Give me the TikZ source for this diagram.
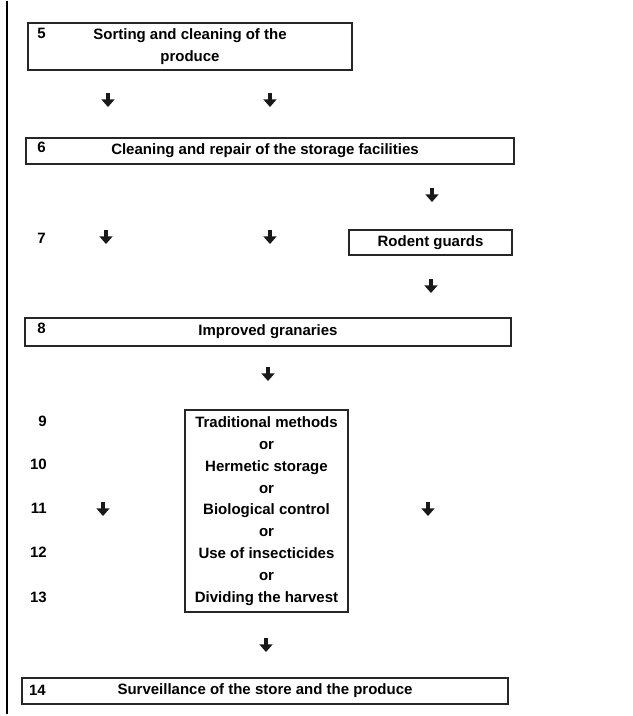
\documentclass[tikz,border=0pt]{standalone}
\usepackage{fontspec}
\setmainfont{Liberation Sans}
\usetikzlibrary{arrows.meta}
\tikzset{
  box/.style={draw=black!85, line width=0.9pt, inner sep=0pt, align=center,
              font=\fontsize{12.8}{18.6}\selectfont\bfseries},
  num/.style={anchor=east, inner sep=0pt, font=\fontsize{12.8}{14}\selectfont\bfseries},
  arr/.style={line width=2.8pt, black!90, -{Triangle[width=11pt,length=6.5pt]}}
}
\begin{document}
\begin{tikzpicture}[x=0.03cm,y=-0.03cm]
  \useasboundingbox[fill=white] (0,0) rectangle (632,716);
  % margen
  \draw[line width=1.2pt] (7,1) -- (7,714);

  % Cajas
  \node[box, minimum width=9.72cm, minimum height=1.41cm] (b5) at (190,46.5)
    {Sorting and cleaning of the\\produce};
  \node[box, minimum width=14.64cm, minimum height=0.78cm] (b6) at (270,151)
    {\hspace*{-0.3cm}Cleaning and repair of the storage facilities};
  \node[box, minimum width=4.89cm, minimum height=0.75cm] (b7) at (430.5,242.5)
    {Rodent guards};
  \node[box, minimum width=14.58cm, minimum height=0.84cm] (b8) at (268,332)
    {Improved granaries};
  \node[box, minimum width=4.89cm, minimum height=6.06cm] (b9) at (266.5,511)
    {Traditional methods\\or\\Hermetic storage\\or\\Biological control\\or\\Use of insecticides\\or\\Dividing the harvest};
  \node[box, minimum width=14.58cm, minimum height=0.78cm] (b14) at (265,691)
    {Surveillance of the store and the produce};

  % Numeros
  \node[num] (n5) at (46,33) {5};
  \node[num] (n6) at (46,147) {6};
  \node[num] (n7) at (46,238) {7};
  \node[num] (n8) at (46,328) {8};
  \node[num] (n9) at (47,421) {9};
  \node[num] (n10) at (47,464) {10};
  \node[num] (n11) at (47,508) {11};
  \node[num] (n12) at (47,552) {12};
  \node[num] (n13) at (47,597) {13};
  \node[num] (n14) at (46,690) {14};

  % Flechas
  \foreach \x/\y in {108/93, 270/93, 432/188, 106/230, 270/230, 431/279,
                     268/367, 103/502, 428/502, 266/638} {
      \draw[arr] (\x,\y) -- ++(0,14);
  }
\end{tikzpicture}
\end{document}
